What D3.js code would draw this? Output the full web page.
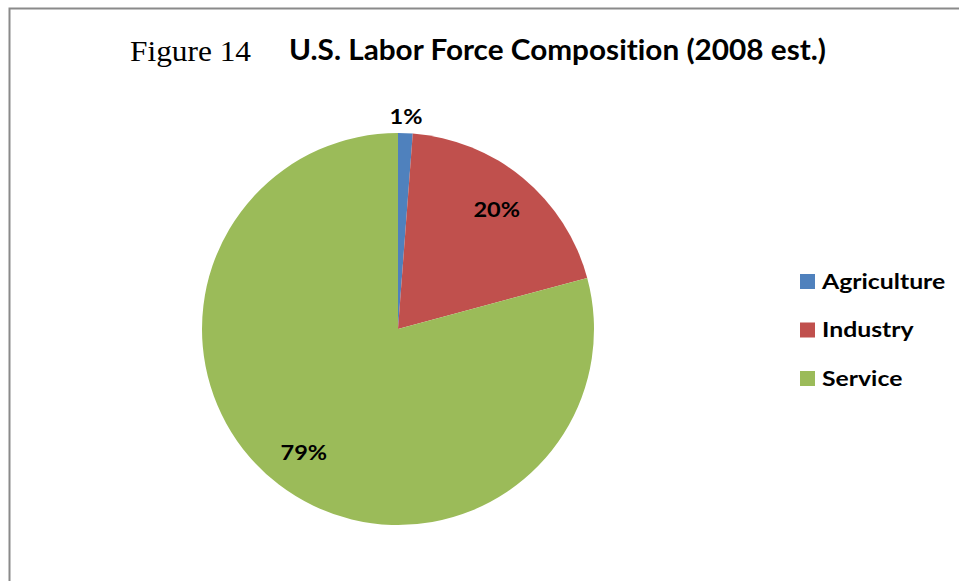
<!DOCTYPE html>
<html>
<head>
<meta charset="utf-8">
<script src="https://cdn.jsdelivr.net/npm/d3@7"></script>
<style>
  body { margin: 0; background: #fff; }
  svg { display: block; }
  text { font-variant-ligatures: none; }
</style>
</head>
<body>
<div id="chart"></div>
<script>
// data
const categories = ["Agriculture", "Industry", "Service"];
const shares = [1.2, 19.6, 79.2];
const colors = ["#4F81BD", "#C0504D", "#9BBB59"];

const width = 959, height = 581;
const cx = 398, cy = 329, radius = 196;

// the reference text is a bit wider than Lato, stretch it sideways
function widen(sel, k) {
    sel.each(function () {
        const w = this.getComputedTextLength();
        d3.select(this)
            .attr("textLength", w * k)
            .attr("lengthAdjust", "spacingAndGlyphs");
    });
}

const svg = d3.select("#chart")
    .append("svg")
    .attr("width", width)
    .attr("height", height);

// frame (only the top and left edges show in the crop)
svg.append("path")
    .attr("d", "M9.5,600 V8.5 H970")
    .attr("fill", "none")
    .attr("stroke", "#8a8a8a")
    .attr("stroke-width", 2);

// title
svg.append("text")
    .attr("x", 130)
    .attr("y", 61)
    .attr("font-family", "Liberation Serif, Times New Roman, serif")
    .attr("font-size", 30)
    .attr("textLength", 121)
    .attr("lengthAdjust", "spacingAndGlyphs")
    .text("Figure 14");

svg.append("text")
    .attr("x", 289)
    .attr("y", 60)
    .attr("font-family", "Lato, Open Sans, sans-serif")
    .attr("font-weight", "bold")
    .attr("font-size", 28)
    .attr("textLength", 537)
    .attr("lengthAdjust", "spacingAndGlyphs")
    .text("U.S. Labor Force Composition (2008 est.)");

const data = categories.map((c, i) => ({ name: c, value: shares[i], color: colors[i] }));
const total = d3.sum(shares);

const pie = d3.pie()
    .sort(null)
    .value(d => d.value);

const arc = d3.arc()
    .innerRadius(0)
    .outerRadius(radius);

const innerLabel = d3.arc()
    .innerRadius(radius * 0.79)
    .outerRadius(radius * 0.79);

const outerLabel = d3.arc()
    .innerRadius(radius * 1.087)
    .outerRadius(radius * 1.087);

const g = svg.append("g")
    .attr("transform", `translate(${cx}, ${cy})`);

const arcs = pie(data);

g.selectAll("path")
    .data(arcs)
    .enter()
    .append("path")
    .attr("d", arc)
    .attr("fill", d => d.data.color);

g.selectAll("text")
    .data(arcs)
    .enter()
    .append("text")
    .attr("transform", d => {
        const p = d.data.value / total < 0.05 ? outerLabel.centroid(d) : innerLabel.centroid(d);
        return `translate(${p[0]}, ${p[1]})`;
    })
    .attr("text-anchor", "middle")
    .attr("dy", "0.36em")
    .attr("font-family", "Lato, Open Sans, sans-serif")
    .attr("font-weight", "bold")
    .attr("font-size", 21)
    .attr("fill", "#000")
    .text(d => Math.round(d.data.value / total * 100) + "%")
    .call(widen, 1.12);

// legend
const legend = svg.append("g")
    .attr("transform", "translate(800, 281)");

const item = legend.selectAll("g")
    .data(data)
    .enter()
    .append("g")
    .attr("transform", (d, i) => `translate(0, ${i * 48.5})`);

item.append("rect")
    .attr("x", 0)
    .attr("y", -7)
    .attr("width", 15)
    .attr("height", 15)
    .attr("fill", d => d.color);

item.append("text")
    .attr("x", 22)
    .attr("y", 7.5)
    .attr("font-family", "Lato, Open Sans, sans-serif")
    .attr("font-weight", "bold")
    .attr("font-size", 21)
    .attr("fill", "#000")
    .text(d => d.name)
    .call(widen, 1.18);
</script>
</body>
</html>
